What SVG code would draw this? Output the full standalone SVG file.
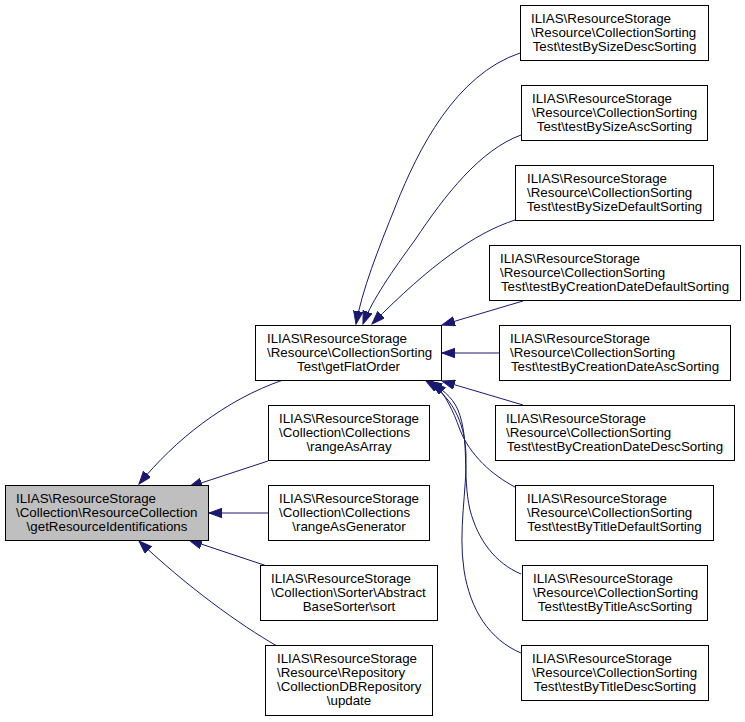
<svg xmlns="http://www.w3.org/2000/svg" width="745" height="722" viewBox="0 0 745 722">
<style>
.n rect{fill:#ffffff;stroke:#000000;stroke-width:1}
.n.main rect{fill:#bfbfbf}
.n text{font-family:"Liberation Sans",Arial,sans-serif;font-size:13.33px;fill:#000000}
.n text.c{text-anchor:middle}
.e path{fill:none;stroke:#191970;stroke-width:1;marker-end:url(#ah)}
</style>
<defs>
<marker id="ah" markerUnits="userSpaceOnUse" markerWidth="14" markerHeight="10" refX="13" refY="4.75" orient="auto">
<path d="M0,0 L13,4.75 L0,9.5 Z" fill="#191970" stroke="#191970" stroke-width="1"/>
</marker>
</defs>
<g id="connectors" class="e">
<path d="M283,380 C225,400 175,440 139,484"/>
<path d="M268,461 L189,487"/>
<path d="M268,513 L209,513"/>
<path d="M267,566 L189,540"/>
<path d="M277,646 C240,625 185,585 139,541"/>
<path d="M520,53 C455,75 418,150 396,205 C378,250 362,290 356,324"/>
<path d="M521,135 C480,150 445,195 415,240 C393,270 372,300 363,324"/>
<path d="M515,220 C475,233 430,265 372,324"/>
<path d="M523,301 L442,325"/>
<path d="M499,353 L442,353"/>
<path d="M523,405 L442,381"/>
<path d="M515,487 C492,475 470,455 460,430 C453,410 445,394 433,382"/>
<path d="M521,574 C495,563 478,540 470,510 C462,475 470,440 458,410 C452,396 440,388 429,381"/>
<path d="M521,653 C490,640 470,610 464,570 C458,530 467,490 466,455 C465,420 450,395 426,381"/>
</g>
<g id="node_main" class="n main">
<rect x="5.5" y="485.5" width="203" height="55"/>
<text x="16" y="502.5">ILIAS\ResourceStorage</text>
<text x="16" y="516.8">\Collection\ResourceCollection</text>
<text class="c" x="107" y="531.1">\getResourceIdentifications</text>
</g>
<g id="node_getFlatOrder" class="n">
<rect x="255.5" y="325.5" width="186" height="55"/>
<text x="267" y="342.5">ILIAS\ResourceStorage</text>
<text x="267" y="356.8">\Resource\CollectionSorting</text>
<text class="c" x="348.5" y="371.1">Test\getFlatOrder</text>
</g>
<g id="node_rangeAsArray" class="n">
<rect x="268.5" y="405.5" width="161" height="55"/>
<text x="279" y="422.5">ILIAS\ResourceStorage</text>
<text x="279" y="436.8">\Collection\Collections</text>
<text class="c" x="349" y="451.1">\rangeAsArray</text>
</g>
<g id="node_rangeAsGenerator" class="n">
<rect x="268.5" y="485.5" width="161" height="55"/>
<text x="279" y="502.5">ILIAS\ResourceStorage</text>
<text x="279" y="516.8">\Collection\Collections</text>
<text class="c" x="349" y="531.1">\rangeAsGenerator</text>
</g>
<g id="node_sort" class="n">
<rect x="260.5" y="565.5" width="177" height="55"/>
<text x="271" y="582.5">ILIAS\ResourceStorage</text>
<text x="271" y="596.8">\Collection\Sorter\Abstract</text>
<text class="c" x="349" y="611.1">BaseSorter\sort</text>
</g>
<g id="node_update" class="n">
<rect x="265.5" y="645.5" width="167" height="70"/>
<text x="277" y="662.5">ILIAS\ResourceStorage</text>
<text x="277" y="676.8">\Resource\Repository</text>
<text x="277" y="691.1">\CollectionDBRepository</text>
<text class="c" x="349" y="705.4">\update</text>
</g>
<g id="node_testBySizeDescSorting" class="n">
<rect x="520.5" y="5.5" width="188" height="55"/>
<text x="531" y="22.5">ILIAS\ResourceStorage</text>
<text x="531" y="36.8">\Resource\CollectionSorting</text>
<text class="c" x="614.5" y="51.1">Test\testBySizeDescSorting</text>
</g>
<g id="node_testBySizeAscSorting" class="n">
<rect x="521.5" y="85.5" width="186" height="55"/>
<text x="532" y="102.5">ILIAS\ResourceStorage</text>
<text x="532" y="116.8">\Resource\CollectionSorting</text>
<text class="c" x="614.5" y="131.1">Test\testBySizeAscSorting</text>
</g>
<g id="node_testBySizeDefaultSorting" class="n">
<rect x="515.5" y="165.5" width="198" height="55"/>
<text x="527" y="182.5">ILIAS\ResourceStorage</text>
<text x="527" y="196.8">\Resource\CollectionSorting</text>
<text class="c" x="614.5" y="211.1">Test\testBySizeDefaultSorting</text>
</g>
<g id="node_testByCreationDateDefaultSorting" class="n">
<rect x="489.5" y="245.5" width="251" height="55"/>
<text x="500" y="262.5">ILIAS\ResourceStorage</text>
<text x="500" y="276.8">\Resource\CollectionSorting</text>
<text class="c" x="615" y="291.1">Test\testByCreationDateDefaultSorting</text>
</g>
<g id="node_testByCreationDateAscSorting" class="n">
<rect x="499.5" y="325.5" width="231" height="55"/>
<text x="510" y="342.5">ILIAS\ResourceStorage</text>
<text x="510" y="356.8">\Resource\CollectionSorting</text>
<text class="c" x="615" y="371.1">Test\testByCreationDateAscSorting</text>
</g>
<g id="node_testByCreationDateDescSorting" class="n">
<rect x="495.5" y="405.5" width="239" height="55"/>
<text x="506" y="422.5">ILIAS\ResourceStorage</text>
<text x="506" y="436.8">\Resource\CollectionSorting</text>
<text class="c" x="615" y="451.1">Test\testByCreationDateDescSorting</text>
</g>
<g id="node_testByTitleDefaultSorting" class="n">
<rect x="515.5" y="485.5" width="198" height="55"/>
<text x="527" y="502.5">ILIAS\ResourceStorage</text>
<text x="527" y="516.8">\Resource\CollectionSorting</text>
<text class="c" x="614.5" y="531.1">Test\testByTitleDefaultSorting</text>
</g>
<g id="node_testByTitleAscSorting" class="n">
<rect x="522.5" y="565.5" width="185" height="55"/>
<text x="533" y="582.5">ILIAS\ResourceStorage</text>
<text x="533" y="596.8">\Resource\CollectionSorting</text>
<text class="c" x="615" y="611.1">Test\testByTitleAscSorting</text>
</g>
<g id="node_testByTitleDescSorting" class="n">
<rect x="521.5" y="645.5" width="187" height="55"/>
<text x="532" y="662.5">ILIAS\ResourceStorage</text>
<text x="532" y="676.8">\Resource\CollectionSorting</text>
<text class="c" x="615" y="691.1">Test\testByTitleDescSorting</text>
</g>
</svg>
